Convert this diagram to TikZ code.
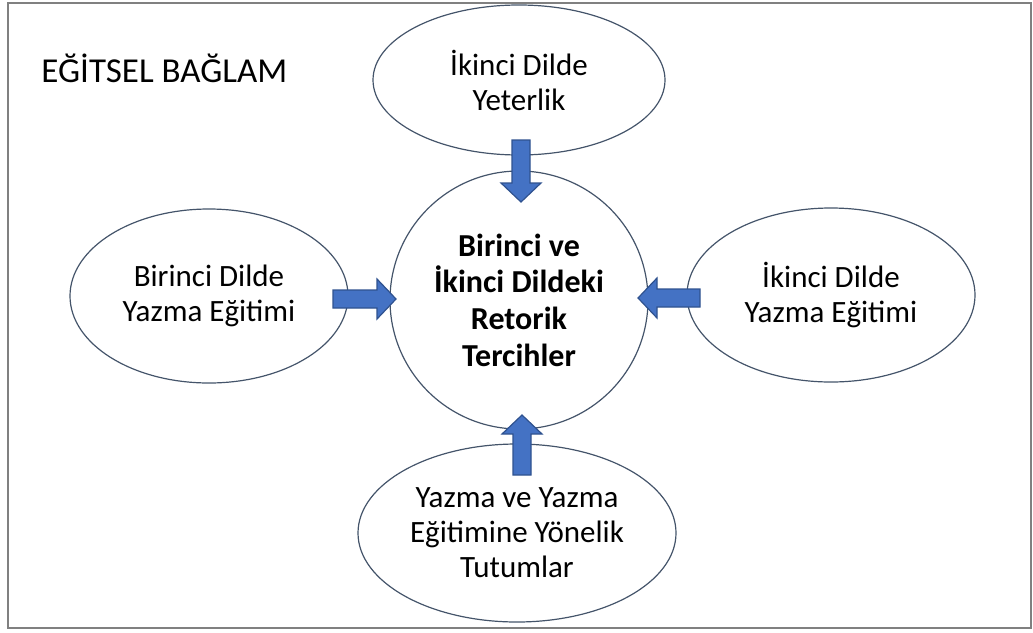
\documentclass[tikz,border=0pt]{standalone}
\usepackage{fontspec}
\setmainfont{Carlito}
\usetikzlibrary{shapes.geometric}

\definecolor{ovalline}{RGB}{68,84,106}
\definecolor{arrowblue}{RGB}{68,114,196}
\definecolor{arrowedge}{RGB}{47,82,143}
\definecolor{framegray}{RGB}{128,128,128}

\tikzset{
  oval/.style={shape=ellipse,draw=ovalline,line width=0.6pt,inner sep=0pt,
    align=center,font=\fontsize{15.5}{17.5}\selectfont},
  core/.style={shape=circle,draw=ovalline,line width=0.6pt,inner sep=0pt,
    align=center,font=\fontsize{16}{18.3}\selectfont\bfseries},
  blk/.style={fill=arrowblue,draw=arrowedge,line width=0.6pt},
  pics/blockarrow/.style={code={
    \draw[blk] (0,0) -- (-19,20) -- (-19,9) -- (-#1,9) -- (-#1,-9)
      -- (-19,-9) -- (-19,-20) -- cycle;
  }}
}

\begin{document}
\begin{tikzpicture}[x=0.5pt,y=-0.5pt]
\useasboundingbox (0,0) rectangle (1033,632);
\draw[framegray,line width=0.9pt] (8,3) rectangle (1031,628);

\node[font=\fontsize{17.5}{20}\selectfont,anchor=base west,inner sep=0pt] (context) at (41,82) {EĞİTSEL BAĞLAM};

% central choice and the four influences
\node[core,minimum size=129pt] (choice) at (519,300)
  {Birinci ve\\İkinci Dildeki\\Retorik\\Tercihler};
\node[oval,minimum width=146pt,minimum height=75pt] (proficiency) at (519,80)
  {İkinci Dilde\\Yeterlik};
\node[oval,minimum width=139pt,minimum height=87pt] (firstwriting) at (209,296)
  {Birinci Dilde\\Yazma Eğitimi};
\node[oval,minimum width=144pt,minimum height=87pt] (secondwriting) at (831,295)
  {İkinci Dilde\\Yazma Eğitimi};
\node[oval,minimum width=159pt,minimum height=89pt] (attitudes) at (517,533)
  {Yazma ve Yazma\\Eğitimine Yönelik\\Tutumlar};

% block arrows into the centre
\coordinate (toptip) at (521,202);
\coordinate (lefttip) at (396,299);
\coordinate (righttip) at (638,298);
\coordinate (bottomtip) at (522,415);
\pic[rotate=-90] at (toptip) {blockarrow=62};
\pic at (lefttip) {blockarrow=63};
\pic[rotate=180] at (righttip) {blockarrow=62};
\pic[rotate=90] at (bottomtip) {blockarrow=60};
\end{tikzpicture}
\end{document}
